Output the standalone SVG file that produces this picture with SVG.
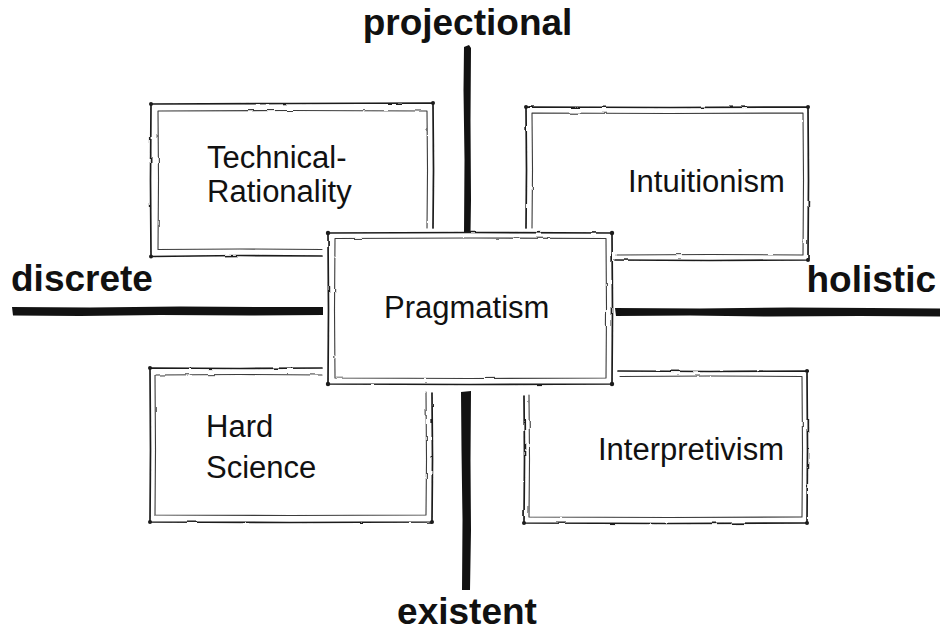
<svg xmlns="http://www.w3.org/2000/svg" width="940" height="632" viewBox="0 0 940 632">
  <style>
    .outer { fill: none; stroke: #1c1c1c; stroke-width: 1.7; stroke-linejoin: round; stroke-linecap: round; }
    .inner { fill: none; stroke: #3a3a3a; stroke-width: 1.1; stroke-linejoin: round; stroke-linecap: round; }
    .dot { fill: #1c1c1c; }
    .axis { fill: #121212; }
    .lbl { font-family: "Liberation Sans", Arial, Helvetica, sans-serif; font-size: 31px; fill: #111; }
    .ax { font-family: "Liberation Sans", Arial, Helvetica, sans-serif; font-size: 37px; font-weight: bold; fill: #111; }
  </style>
  <defs>
    <filter id="sketch" x="-5%" y="-5%" width="110%" height="110%">
      <feTurbulence type="fractalNoise" baseFrequency="0.06" numOctaves="2" seed="3" result="n"/>
      <feDisplacementMap in="SourceGraphic" in2="n" scale="2.2" xChannelSelector="R" yChannelSelector="G"/>
    </filter>
  </defs>
  <rect width="940" height="632" fill="#ffffff"/>

  <g id="connectors">
    <path class="axis" d="M464,47 L469,45 L471,48 L470.5,120 L471,200 L470.5,233 L464,233 L464.5,160 L463.5,90 Z"/>
    <path class="axis" d="M461,392 L471,391 L470.5,460 L471,530 L470,590 L462,590 L462.5,520 L461.5,450 Z"/>
    <path class="axis" d="M12,307 L90,307.5 L180,306.5 L260,307 L323,307 L323,315 L250,315.5 L160,315 L80,316 L13,315.5 Z"/>
    <path class="axis" d="M615,308 L700,308.5 L790,307.5 L870,308 L940,308.5 L940,316.5 L860,316 L770,316.5 L690,315.5 L616,316 Z"/>
  </g>

  <g id="node-technical-rationality">
    <g filter="url(#sketch)">
      <path class="outer" d="M322,256 L240,255.5 L151,256.5 L150.5,180 L151,104 L290,103.5 L433,103 L433.5,170 L433,228"/>
      <path class="inner" d="M322,249.5 L240,249 L158,249.5 L158.5,180 L158,111 L290,110.5 L427,111 L427.5,170 L427,228"/>
    </g>
    <circle class="dot" cx="151" cy="104" r="2"/>
    <circle class="dot" cx="151" cy="256.5" r="2"/>
    <circle class="dot" cx="433" cy="103" r="2"/>
    <text class="lbl" x="207" y="168">Technical-</text>
    <text class="lbl" x="207" y="202">Rationality</text>
  </g>

  <g id="node-intuitionism">
    <g filter="url(#sketch)">
      <path class="outer" d="M526,228 L526.5,170 L526,107 L670,107.5 L808,107 L808.5,180 L808,260 L710,260.5 L615,260"/>
      <path class="inner" d="M532,228 L532.5,170 L532,113 L670,113.5 L803,113 L803.5,180 L803,255 L710,254.5 L617,255"/>
    </g>
    <circle class="dot" cx="526" cy="107" r="2"/>
    <circle class="dot" cx="808" cy="107" r="2"/>
    <circle class="dot" cx="808" cy="260" r="2"/>
    <text class="lbl" x="628" y="192">Intuitionism</text>
  </g>

  <g id="node-pragmatism">
    <g filter="url(#sketch)">
      <path class="outer" d="M328,233 L470,232.5 L612,233 L612.5,310 L612,384 L470,384.5 L328,384 L328.5,310 Z"/>
      <path class="inner" d="M335,238.5 L470,238 L606,238.5 L606.5,310 L606,378 L470,378.5 L335,378 L334.5,310 Z"/>
    </g>
    <circle class="dot" cx="328" cy="233" r="2.2"/>
    <circle class="dot" cx="612" cy="233" r="2.2"/>
    <circle class="dot" cx="328" cy="384" r="2.2"/>
    <circle class="dot" cx="612" cy="384" r="2.2"/>
    <text class="lbl" x="384" y="318">Pragmatism</text>
  </g>

  <g id="node-hard-science">
    <g filter="url(#sketch)">
      <path class="outer" d="M322,368 L240,368.5 L150,368 L150.5,450 L150,522 L290,522.5 L432,522 L432.5,460 L432,393"/>
      <path class="inner" d="M322,375 L240,374.5 L155,375 L155.5,450 L155,515 L290,515.5 L426,515 L426.5,460 L426,393"/>
    </g>
    <circle class="dot" cx="150" cy="368" r="2"/>
    <circle class="dot" cx="150" cy="522" r="2"/>
    <circle class="dot" cx="432" cy="522" r="2"/>
    <text class="lbl" x="206" y="437">Hard</text>
    <text class="lbl" x="206" y="478">Science</text>
  </g>

  <g id="node-interpretivism">
    <g filter="url(#sketch)">
      <path class="outer" d="M618,371 L710,371.5 L807,371 L807.5,450 L807,523 L670,523.5 L524,523 L524.5,460 L524,395"/>
      <path class="inner" d="M620,376.5 L710,376 L802,376.5 L802.5,450 L802,517 L670,517.5 L529,517 L529.5,460 L529,395"/>
    </g>
    <circle class="dot" cx="807" cy="371" r="2"/>
    <circle class="dot" cx="807" cy="523" r="2"/>
    <circle class="dot" cx="524" cy="523" r="2"/>
    <text class="lbl" x="598" y="460">Interpretivism</text>
  </g>

  <g id="node-projectional"><text class="ax" x="467.5" y="35" text-anchor="middle">projectional</text></g>
  <g id="node-discrete"><text class="ax" x="11" y="291">discrete</text></g>
  <g id="node-holistic"><text class="ax" x="936" y="292" text-anchor="end">holistic</text></g>
  <g id="node-existent"><text class="ax" x="467" y="624" text-anchor="middle">existent</text></g>
</svg>
